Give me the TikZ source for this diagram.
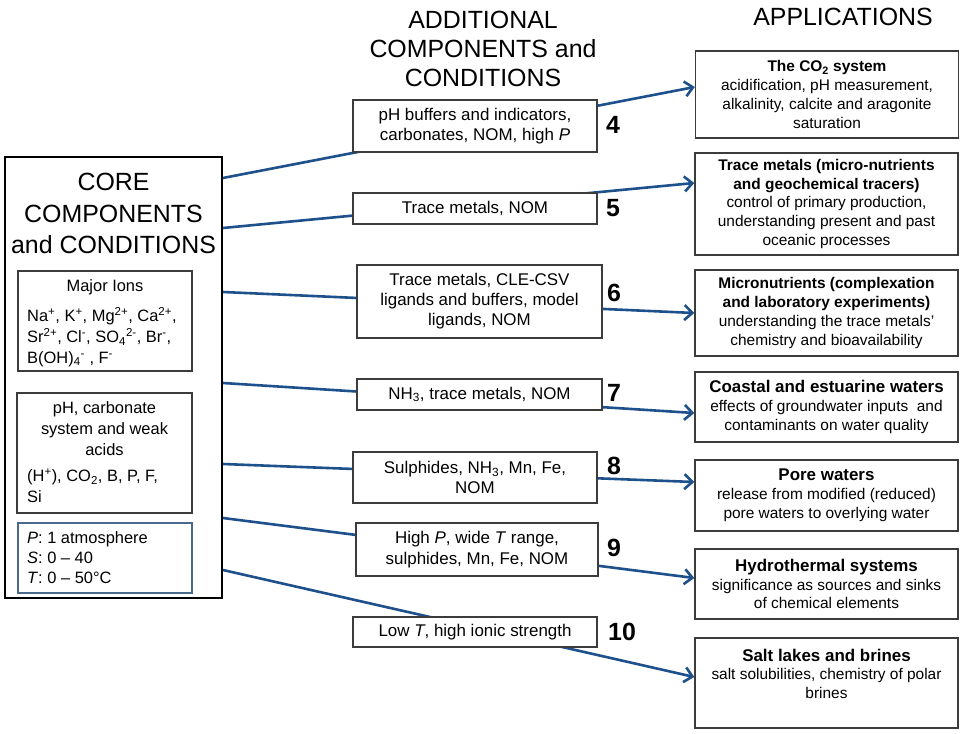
\documentclass[tikz,border=0pt]{standalone}
\usepackage{fontspec}
\setmainfont{Liberation Sans}
\usetikzlibrary{arrows.meta}
\definecolor{arrowblue}{RGB}{30,80,140}
\definecolor{boxgray}{RGB}{60,60,60}
\definecolor{pboxblue}{RGB}{75,105,140}
\newcommand{\bigttl}[1]{{\bfseries\fontsize{17}{19.5}\selectfont #1}}
\begin{document}
\begin{tikzpicture}[x=1bp,y=-1bp,
  hdr/.style={font=\fontsize{25}{29.5}\selectfont, align=center, inner sep=0},
  corebox/.style={draw=black, line width=1.8bp, minimum width=217bp, minimum height=441bp, inner sep=0},
  innerbox/.style={draw=boxgray, line width=1.2bp, minimum width=174bp, inner sep=0},
  intext/.style={font=\fontsize{16.5}{21}\selectfont, inner sep=0},
  midbox/.style={draw=boxgray, line width=1.2bp, fill=white, minimum width=244bp, inner sep=0, align=center, font=\fontsize{17}{20.7}\selectfont},
  appbox/.style={draw=boxgray, line width=1.4bp, minimum width=263bp, inner sep=0, align=center, font=\fontsize{15.5}{18.8}\selectfont},
  num/.style={font=\bfseries\fontsize{25}{25}\selectfont, inner sep=0},
  link/.style={draw=arrowblue, line width=2.6bp, line join=round, -{Straight Barb[length=8bp,width=15bp]}}
]
\useasboundingbox[fill=white] (0,0) rectangle (964,734);

% headers
\node[hdr] (addhdr) at (483,49) {ADDITIONAL\\COMPONENTS and\\CONDITIONS};
\node[hdr] (apphdr) at (843,17) {APPLICATIONS};

% core box
\node[corebox] (core) at (113.5,377.5) {};
\node[hdr, font=\fontsize{25}{31.5}\selectfont] (coretitle) at (113.5,213.5) {CORE\\COMPONENTS\\and CONDITIONS};

\node[innerbox, minimum height=100bp] (ions) at (105,321) {};
\node[intext] (ionstitle) at (105,287) {Major Ions};
\node[intext, align=left, anchor=west] (ionstext) at (27,337) {Na\textsuperscript{+}, K\textsuperscript{+}, Mg\textsuperscript{2+}, Ca\textsuperscript{2+},\\Sr\textsuperscript{2+}, Cl\textsuperscript{-}, SO\textsubscript{4}\textsuperscript{2-}, Br\textsuperscript{-},\\B(OH)\textsubscript{4}\textsuperscript{-} , F\textsuperscript{-}};

\node[innerbox, minimum width=175bp, minimum height=120bp] (phbox) at (104.5,453) {};
\node[intext, align=center] (phtitle) at (104.5,429) {pH, carbonate\\system and weak\\acids};
\node[intext, align=left, anchor=west] (phtext) at (27,486) {(H\textsuperscript{+}), CO\textsubscript{2}, B, P, F,\\Si};

\node[innerbox, draw=pboxblue, minimum height=70bp] (pbox) at (105,558) {};
\node[intext, align=left, anchor=west, font=\fontsize{16.5}{20}\selectfont] (ptext) at (27,558) {\textit{P}: 1 atmosphere\\\textit{S}: 0 -- 40\\\textit{T}: 0 -- 50°C};

% application boxes
\node[appbox, minimum height=87bp] (appA) at (827,94.5) {\textbf{The CO\textsubscript{2} system}\\acidification, pH measurement,\\alkalinity, calcite and aragonite\\saturation};
\node[appbox, minimum height=102bp] (appB) at (826.5,204) {\textbf{Trace metals (micro-nutrients}\\\textbf{and geochemical tracers)}\\control of primary production,\\understanding present and past\\oceanic processes};
\node[appbox, minimum height=86bp] (appC) at (826.5,313) {\textbf{Micronutrients (complexation}\\\textbf{and laboratory experiments)}\\understanding the trace metals'\\chemistry and bioavailability};
\node[appbox, minimum height=70bp] (appD) at (826.5,407) {\bigttl{Coastal and estuarine waters}\\effects of groundwater inputs~ and\\contaminants on water quality};
\node[appbox, minimum height=71bp] (appE) at (826.5,495.5) {\bigttl{Pore waters}\\release from modified (reduced)\\pore waters to overlying water};
\node[appbox, minimum height=70bp] (appF) at (826.5,584) {\bigttl{Hydrothermal systems}\\significance as sources and sinks\\of chemical elements};
\node[appbox, minimum height=90bp] (appG) at (826.5,683) {\bigttl{Salt lakes and brines}\\salt solubilities, chemistry of polar\\brines\\~};

% connectors
\draw[link] (core.east |- 0,178) -- (appA.west |- 0,87);
\draw[link] (core.east |- 0,228) -- (appB.west |- 0,183);
\draw[link] (core.east |- 0,292) -- (appC.west |- 0,313);
\draw[link] (core.east |- 0,383) -- (appD.west |- 0,413);
\draw[link] (core.east |- 0,464) -- (appE.west |- 0,482);
\draw[link] (core.east |- 0,518) -- (appF.west |- 0,578);
\draw[link] (core.east |- 0,570) -- (appG.west |- 0,677);

% middle boxes
\node[midbox, minimum height=52bp] (m4) at (475,126) {pH buffers and indicators,\\carbonates, NOM, high \textit{P}};
\node[midbox, minimum height=31bp] (m5) at (475,208.5) {Trace metals, NOM};
\node[midbox, minimum width=245bp, minimum height=73bp, font=\fontsize{17}{20}\selectfont] (m6) at (479.5,301.5) {Trace metals, CLE-CSV\\ligands and buffers, model\\ligands, NOM};
\node[midbox, minimum width=245bp, minimum height=31bp] (m7) at (479.5,394.5) {NH\textsubscript{3}, trace metals, NOM};
\node[midbox, minimum height=51bp, font=\fontsize{17}{19.5}\selectfont] (m8) at (475,477.5) {Sulphides, NH\textsubscript{3}, Mn, Fe,\\NOM};
\node[midbox, minimum width=242bp, minimum height=53bp] (m9) at (477,549.5) {High \textit{P}, wide \textit{T} range,\\sulphides, Mn, Fe, NOM};
\node[midbox, minimum height=30bp] (m10) at (475,632) {Low \textit{T}, high ionic strength};

% numbers
\node[num] (n4) at (613,125) {4};
\node[num] (n5) at (613,208) {5};
\node[num] (n6) at (614,293) {6};
\node[num] (n7) at (614,393) {7};
\node[num] (n8) at (614,466) {8};
\node[num] (n9) at (614,548) {9};
\node[num] (n10) at (622,632) {10};
\end{tikzpicture}
\end{document}
